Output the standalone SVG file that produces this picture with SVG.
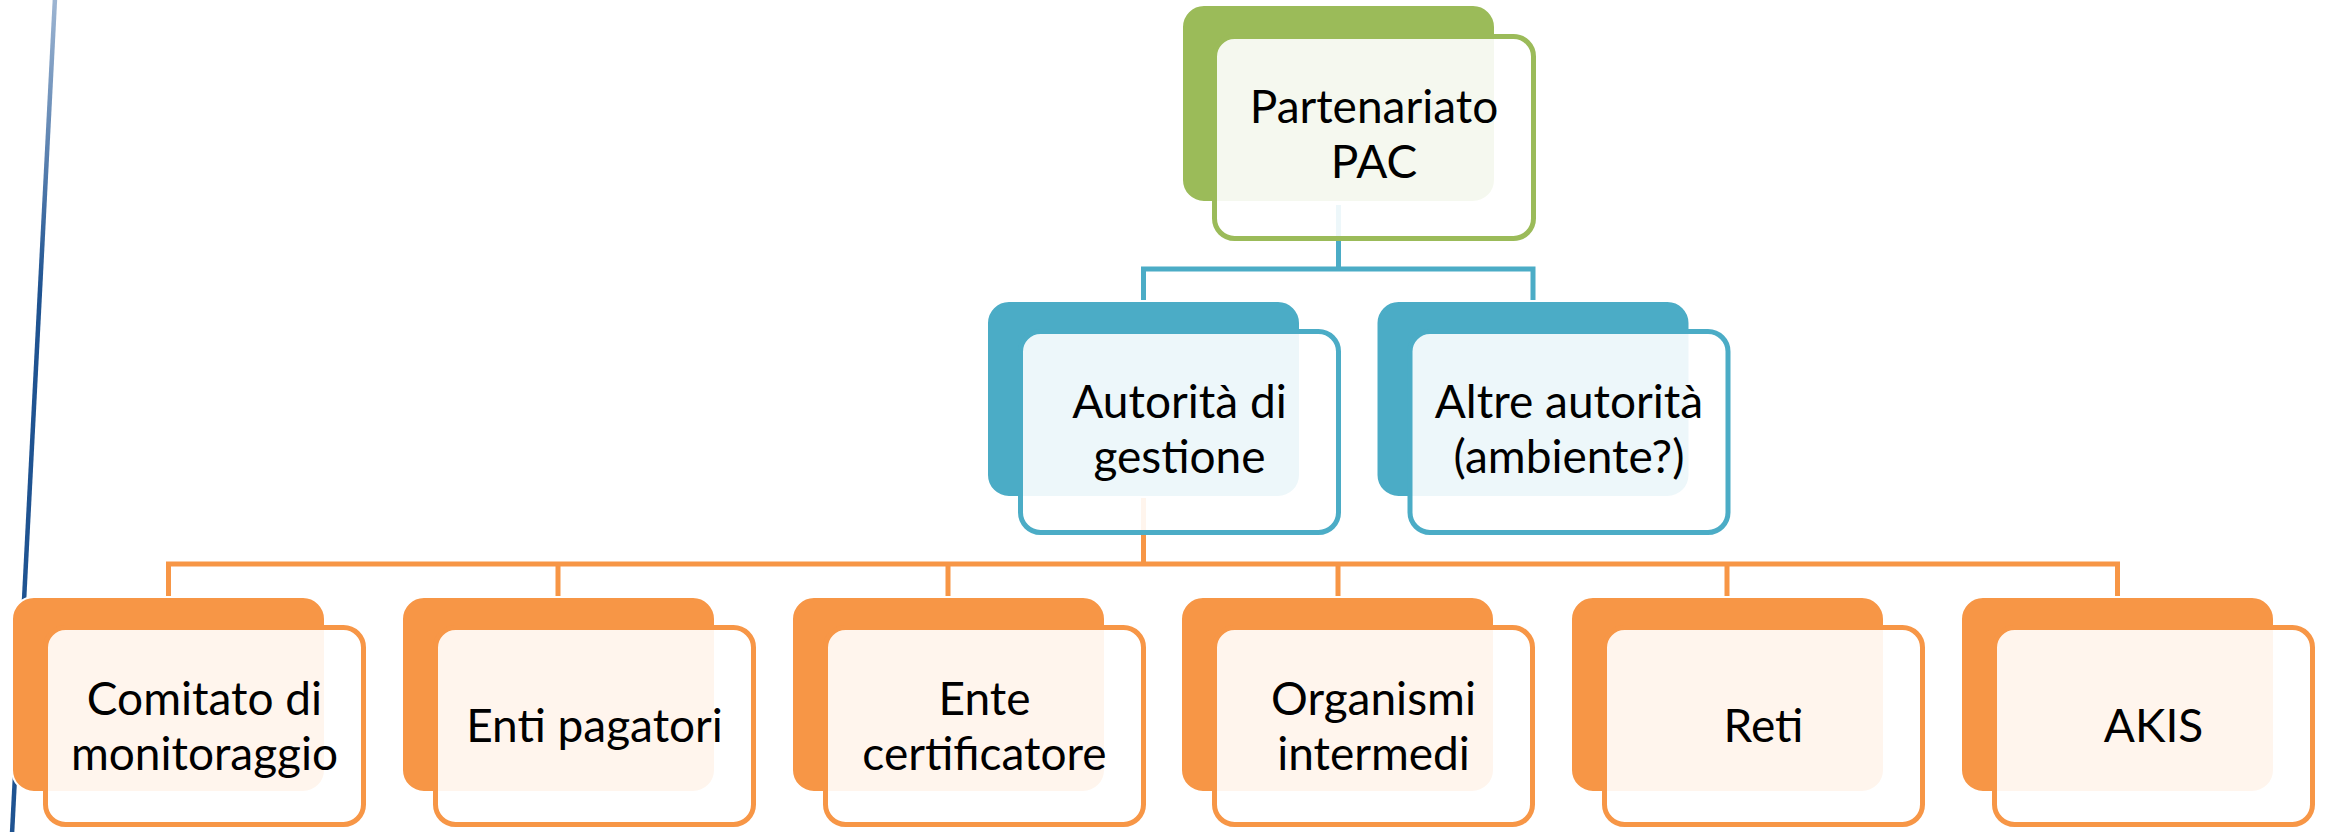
<svg xmlns="http://www.w3.org/2000/svg" width="2328" height="832" viewBox="0 0 2328 832">
<defs>
<linearGradient id="lg" x1="0" y1="0" x2="0" y2="832" gradientUnits="userSpaceOnUse">
<stop offset="0" stop-color="#9DB5D2"/>
<stop offset="0.35" stop-color="#1F5391"/>
<stop offset="1" stop-color="#1F5391"/>
</linearGradient>
<style>
.t{font-family:Lato,"Liberation Sans",sans-serif;font-size:46px;fill:#000;text-anchor:middle}
.bg{fill:#9BBB59;stroke:#fff;stroke-width:2}
.bb{fill:#4BACC6;stroke:#fff;stroke-width:2}
.bo{fill:#F79646;stroke:#fff;stroke-width:2}
.fg{fill:#fff;fill-opacity:0.9;stroke:#9BBB59;stroke-width:5}
.fb{fill:#fff;fill-opacity:0.9;stroke:#4BACC6;stroke-width:5}
.fo{fill:#fff;fill-opacity:0.9;stroke:#F79646;stroke-width:5}
.cb{fill:none;stroke:#4BACC6;stroke-width:5}
.co{fill:none;stroke:#F79646;stroke-width:5}
</style>
</defs>
<rect width="2328" height="832" fill="#fff"/>
<line x1="55" y1="-2" x2="12" y2="834" stroke="url(#lg)" stroke-width="4.5"/>
<g id="connectors">
<path class="cb" d="M1338.5 205V269M1143.5 301V269H1533V301"/>
<path class="co" d="M1143.5 497V564M168.5 597V564H2117.5V597M558 564V597M948 564V597M1338 564V597M1727 564V597"/>
</g>
<g id="n-pac">
<rect class="bg" x="1182" y="5" width="313" height="197" rx="22"/>
<rect class="fg" x="1214.5" y="36.5" width="319" height="202" rx="20"/>
<text class="t" x="1374" y="123">Partenariato</text>
<text class="t" x="1374" y="178">PAC</text>
</g>
<g id="n-autorita">
<rect class="bb" x="987" y="301" width="313" height="196" rx="22"/>
<rect class="fb" x="1020.5" y="331.5" width="318" height="201" rx="20"/>
<text class="t" x="1179.5" y="418">Autorità di</text>
<text class="t" x="1179.5" y="473">gestione</text>
</g>
<g id="n-altre">
<rect class="bb" x="1376.5" y="301" width="313" height="196" rx="22"/>
<rect class="fb" x="1410" y="331.5" width="318" height="201" rx="20"/>
<text class="t" x="1569" y="418">Altre autorità</text>
<text class="t" x="1569" y="473">(ambiente?)</text>
</g>
<g id="n-comitato">
<rect class="bo" x="12" y="597" width="313" height="195" rx="22"/>
<rect class="fo" x="45.5" y="627.5" width="318" height="197" rx="20"/>
<text class="t" x="204.5" y="715">Comitato di</text>
<text class="t" x="204.5" y="770">monitoraggio</text>
</g>
<g id="n-enti">
<rect class="bo" x="402" y="597" width="313" height="195" rx="22"/>
<rect class="fo" x="435.5" y="627.5" width="318" height="197" rx="20"/>
<text class="t" x="594.5" y="742">Enti pagatori</text>
</g>
<g id="n-ente">
<rect class="bo" x="792" y="597" width="313" height="195" rx="22"/>
<rect class="fo" x="825.5" y="627.5" width="318" height="197" rx="20"/>
<text class="t" x="984.5" y="715">Ente</text>
<text class="t" x="984.5" y="770">certificatore</text>
</g>
<g id="n-organismi">
<rect class="bo" x="1181" y="597" width="313" height="195" rx="22"/>
<rect class="fo" x="1214.5" y="627.5" width="318" height="197" rx="20"/>
<text class="t" x="1373.5" y="715">Organismi</text>
<text class="t" x="1373.5" y="770">intermedi</text>
</g>
<g id="n-reti">
<rect class="bo" x="1571" y="597" width="313" height="195" rx="22"/>
<rect class="fo" x="1604.5" y="627.5" width="318" height="197" rx="20"/>
<text class="t" x="1763.5" y="742">Reti</text>
</g>
<g id="n-akis">
<rect class="bo" x="1961" y="597" width="313" height="195" rx="22"/>
<rect class="fo" x="1994.5" y="627.5" width="318" height="197" rx="20"/>
<text class="t" x="2153.5" y="742">AKIS</text>
</g>
</svg>
